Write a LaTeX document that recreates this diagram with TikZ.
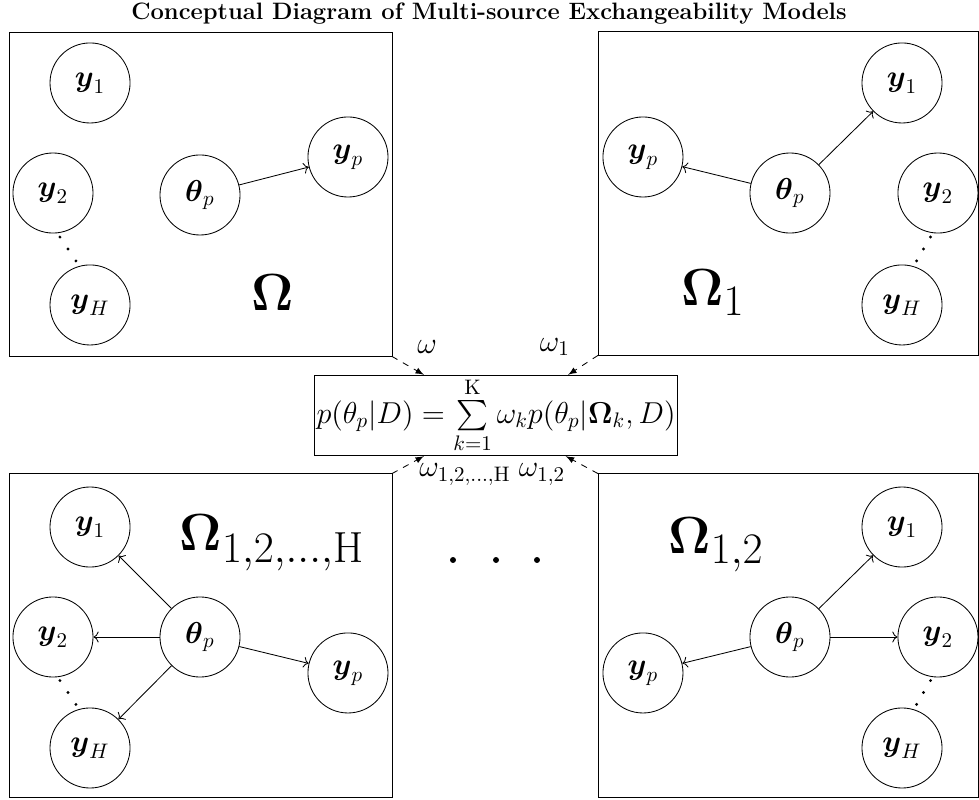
\documentclass[tikz,border=0pt]{standalone}
\usepackage{amsmath}
\usepackage{amssymb}
\usetikzlibrary{arrows.meta, positioning, calc}

\begin{document}
\begin{tikzpicture}[thin]

	\tikzset{
		var/.style={
				circle, draw, inner sep=0pt, minimum size=1.34cm, font=\Large
			},
		panel/.style={
				rectangle, draw, inner sep=0pt, outer sep=0pt, minimum width=6.41cm, minimum height=5.42cm
			},
		link/.style={->},
		weight/.style={dashed, -latex},
		omega/.style={font=\Huge},
		wlabel/.style={font=\Large},
	}

	\useasboundingbox (0,0) rectangle (16.388,-13.375);

	\node[font=\fontsize{11.3}{13}\selectfont\bfseries] (title) at (8.185,-0.234) {Conceptual Diagram of Multi-source Exchangeability Models};

	\node[panel](b1) at (3.356,-3.256) {};
	\node[panel, minimum width=6.36cm](b2) at (13.190,-3.239) {};
	\node[panel](b3) at (3.356,-10.638) {};
	\node[panel, minimum width=6.36cm](b4) at (13.190,-10.638) {};

	% Omega
	\node[var](y11) at (1.507,-1.389) {$\boldsymbol{y}_1$};
	\node[var](y12) at (0.887,-3.231) {$\boldsymbol{y}_2$};
	\node[var](y1h) at (1.507,-5.105) {$\boldsymbol{y}_H$};
	\node[var](t1) at (3.348,-3.264) {$\boldsymbol{\theta}_p$};
	\node[var](y1p) at (5.825,-2.628) {$\boldsymbol{y}_p$};
	\foreach \d in {-1,0,1}
		\fill ($(y12)!0.5!(y1h)+(\d*0.134-0.06,-\d*0.2)$) circle (0.027);
	\node[omega] at (4.570,-4.905) {$\boldsymbol{\Omega}$};
	\draw[link] (t1) to (y1p);

	% Omega_1
	\node[var](y21) at (15.099,-1.389) {$\boldsymbol{y}_1$};
	\node[var](y22) at (15.701,-3.231) {$\boldsymbol{y}_2$};
	\node[var](y2h) at (15.099,-5.105) {$\boldsymbol{y}_H$};
	\node[var](t2) at (13.224,-3.231) {$\boldsymbol{\theta}_p$};
	\node[var](y2p) at (10.763,-2.628) {$\boldsymbol{y}_p$};
	\foreach \d in {-1,0,1}
		\fill ($(y22)!0.5!(y2h)+(-\d*0.117+0.06,-\d*0.2)$) circle (0.027);
	\node[omega] at (11.935,-4.905) {$\boldsymbol{\Omega}_1$};
	\draw[link] (t2) to (y21);
	\draw[link] (t2) to (y2p);

	% Omega_{1,2,...,H}
	\node[var](y31) at (1.507,-8.822) {$\boldsymbol{y}_1$};
	\node[var](y32) at (0.887,-10.663) {$\boldsymbol{y}_2$};
	\node[var](y3h) at (1.507,-12.521) {$\boldsymbol{y}_H$};
	\node[var](t3) at (3.348,-10.663) {$\boldsymbol{\theta}_p$};
	\node[var](y3p) at (5.825,-11.265) {$\boldsymbol{y}_p$};
	\foreach \d in {-1,0,1}
		\fill ($(y32)!0.5!(y3h)+(\d*0.134-0.06,-\d*0.2)$) circle (0.027);
	\node[omega] at (4.553,-9.089) {$\boldsymbol{\Omega}_{1,2,\ldots,\mathrm{H}}$};
	\draw[link] (t3) to (y31);
	\draw[link] (t3) to (y32);
	\draw[link] (t3) to (y3h);
	\draw[link] (t3) to (y3p);

	% Omega_{1,2}
	\node[var](y41) at (15.099,-8.822) {$\boldsymbol{y}_1$};
	\node[var](y42) at (15.701,-10.663) {$\boldsymbol{y}_2$};
	\node[var](y4h) at (15.099,-12.521) {$\boldsymbol{y}_H$};
	\node[var](t4) at (13.224,-10.663) {$\boldsymbol{\theta}_p$};
	\node[var](y4p) at (10.763,-11.265) {$\boldsymbol{y}_p$};
	\foreach \d in {-1,0,1}
		\fill ($(y42)!0.5!(y4h)+(-\d*0.117+0.06,-\d*0.2)$) circle (0.027);
	\node[omega] at (11.985,-9.123) {$\boldsymbol{\Omega}_{1,2}$};
	\draw[link] (t4) to (y41);
	\draw[link] (t4) to (y42);
	\draw[link] (t4) to (y4p);

	\foreach \x in {7.583,8.303,8.989}
		\fill (\x,-9.374) circle (0.05);

	% mixture
	\node[draw, inner sep=1pt, wlabel](mix) at (8.303,-6.955) {$p(\theta_p|D)=\sum\limits_{k=1}^{\mathrm{K}}\omega_k p(\theta_p|\boldsymbol{\Omega}_k,D)$};

	\draw[weight] (b1.south east) to ([xshift=1.84cm]mix.north west);
	\draw[weight] (b2.south west) to ([xshift=-1.84cm]mix.north east);
	\draw[weight] (b3.north east) to ([xshift=1.84cm]mix.south west);
	\draw[weight] (b4.north west) to ([xshift=-1.88cm]mix.south east);

	\node[wlabel] at (7.148,-5.808) {$\omega$};
	\node[wlabel] at (9.290,-5.808) {$\omega_1$};
	\node[wlabel] at (7.784,-7.94) {$\omega_{1,2,\ldots,\mathrm{H}}$};
	\node[wlabel] at (9.073,-7.94) {$\omega_{1,2}$};
\end{tikzpicture}
\end{document}
